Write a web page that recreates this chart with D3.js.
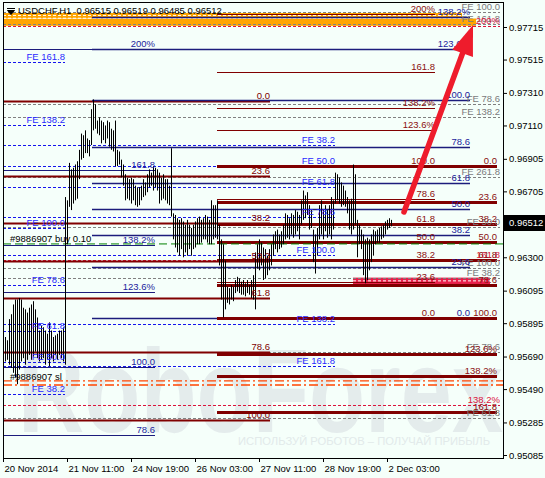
<!DOCTYPE html>
<html>
<head>
<meta charset="utf-8">
<script src="https://cdnjs.cloudflare.com/ajax/libs/d3/7.8.5/d3.min.js"></script>
<style>
  body { margin: 0; background: #f5fffa; }
  svg { display: block; font-family: "Liberation Sans", Arial, sans-serif; }
</style>
</head>
<body>
<div id="chart"></div>
<script>
const width = 545;
const height = 478;

// ------------------
// DATA
// ------------------

const title = "USDCHF,H1  0.96515 0.96519 0.96485 0.96512";
const lastPrice = 0.96512;

const timeTickBars = [0, 32, 64, 96, 128, 160, 192];
const timeLabels = ["20 Nov 2014", "21 Nov 11:00", "24 Nov 19:00", "26 Nov 03:00", "27 Nov 11:00", "28 Nov 19:00", "2 Dec 03:00"];

const priceTicks = [0.97715, 0.97515, 0.97310, 0.97110, 0.96905, 0.96705, 0.96300, 0.96095, 0.95895, 0.95690, 0.95490, 0.95285, 0.95085];

// H1 bars, one per hour from the first bar on 20 Nov: high / low
const barHigh = [
    0.9579, 0.9581, 0.9579, 0.9592, 0.9595, 0.9601, 0.9604, 0.9604, 0.9605, 0.9604,
    0.9599, 0.9598, 0.9596, 0.9599, 0.9601, 0.9603, 0.9598, 0.9593, 0.9585, 0.9588,
    0.9587, 0.9585, 0.9583, 0.9590, 0.9585, 0.9581, 0.9582, 0.9583, 0.9585, 0.9585,
    0.9587, 0.9667, 0.9665, 0.9688, 0.9684, 0.9685, 0.9687, 0.9689, 0.9696, 0.9706,
    0.9705, 0.9708, 0.9703, 0.9702, 0.9721, 0.9727, 0.9724, 0.9714, 0.9716, 0.9714,
    0.9713, 0.9711, 0.9714, 0.9713, 0.9709, 0.9708, 0.9714, 0.9696, 0.9695, 0.9690,
    0.9687, 0.9681, 0.9679, 0.9678, 0.9679, 0.9678, 0.9674, 0.9673, 0.9673, 0.9674,
    0.9678, 0.9676, 0.9681, 0.9684, 0.9682, 0.9686, 0.9685, 0.9684, 0.9682, 0.9679,
    0.9681, 0.9678, 0.9678, 0.9674, 0.9697, 0.9657, 0.9656, 0.9654, 0.9653, 0.9654,
    0.9652, 0.9650, 0.9653, 0.9650, 0.9648, 0.9650, 0.9652, 0.9654, 0.9655, 0.9653,
    0.9654, 0.9656, 0.9655, 0.9653, 0.9665, 0.9662, 0.9662, 0.9665, 0.9650, 0.9641,
    0.9638, 0.9628, 0.9612, 0.9611, 0.9613, 0.9612, 0.9616, 0.9618, 0.9617, 0.9615,
    0.9616, 0.9614, 0.9616, 0.9613, 0.9616, 0.9619, 0.9633, 0.9638, 0.9641, 0.9639,
    0.9636, 0.9635, 0.9631, 0.9635, 0.9638, 0.9644, 0.9646, 0.9647, 0.9644, 0.9646,
    0.9650, 0.9657, 0.9656, 0.9654, 0.9657, 0.9656, 0.9659, 0.9658, 0.9656, 0.9665,
    0.9671, 0.9668, 0.9670, 0.9662, 0.9659, 0.9647, 0.9644, 0.9648, 0.9662, 0.9665,
    0.9659, 0.9662, 0.9659, 0.9662, 0.9667, 0.9665, 0.9682, 0.9681, 0.9679, 0.9676,
    0.9674, 0.9671, 0.9667, 0.9665, 0.9666, 0.9687, 0.9681, 0.9653, 0.9650, 0.9647,
    0.9644, 0.9641, 0.9642, 0.9641, 0.9644, 0.9647, 0.9646, 0.9647, 0.9648, 0.9649,
    0.9650, 0.9652, 0.9653, 0.9654, 0.9653
];
const barLow = [
    0.9568, 0.9566, 0.9567, 0.9564, 0.9562, 0.9559, 0.9556, 0.9552, 0.9561, 0.9566,
    0.9568, 0.9564, 0.9567, 0.9570, 0.9567, 0.9569, 0.9572, 0.9568, 0.9566, 0.9567,
    0.9568, 0.9564, 0.9567, 0.9563, 0.9568, 0.9566, 0.9570, 0.9567, 0.9570, 0.9568,
    0.9566, 0.9564, 0.9638, 0.9661, 0.9659, 0.9663, 0.9665, 0.9666, 0.9678, 0.9690,
    0.9691, 0.9694, 0.9694, 0.9692, 0.9699, 0.9708, 0.9709, 0.9706, 0.9705, 0.9700,
    0.9702, 0.9700, 0.9703, 0.9698, 0.9696, 0.9695, 0.9686, 0.9686, 0.9687, 0.9679,
    0.9674, 0.9665, 0.9666, 0.9665, 0.9663, 0.9665, 0.9662, 0.9661, 0.9662, 0.9665,
    0.9667, 0.9668, 0.9670, 0.9673, 0.9674, 0.9671, 0.9673, 0.9671, 0.9663, 0.9665,
    0.9666, 0.9665, 0.9663, 0.9662, 0.9655, 0.9641, 0.9636, 0.9633, 0.9631, 0.9635,
    0.9630, 0.9633, 0.9631, 0.9635, 0.9631, 0.9635, 0.9636, 0.9638, 0.9638, 0.9639,
    0.9641, 0.9641, 0.9639, 0.9638, 0.9638, 0.9641, 0.9642, 0.9641, 0.9625, 0.9604,
    0.9593, 0.9598, 0.9602, 0.9601, 0.9604, 0.9603, 0.9608, 0.9609, 0.9608, 0.9607,
    0.9607, 0.9606, 0.9608, 0.9607, 0.9605, 0.9604, 0.9598, 0.9623, 0.9622, 0.9625,
    0.9616, 0.9617, 0.9619, 0.9622, 0.9625, 0.9631, 0.9635, 0.9633, 0.9635, 0.9636,
    0.9638, 0.9641, 0.9642, 0.9641, 0.9644, 0.9642, 0.9644, 0.9646, 0.9641, 0.9650,
    0.9653, 0.9654, 0.9656, 0.9647, 0.9648, 0.9627, 0.9620, 0.9631, 0.9641, 0.9644,
    0.9641, 0.9646, 0.9642, 0.9644, 0.9641, 0.9647, 0.9663, 0.9665, 0.9663, 0.9661,
    0.9662, 0.9661, 0.9657, 0.9647, 0.9644, 0.9647, 0.9650, 0.9630, 0.9638, 0.9635,
    0.9619, 0.9614, 0.9616, 0.9622, 0.9627, 0.9631, 0.9638, 0.9639, 0.9639, 0.9641,
    0.9642, 0.9644, 0.9647, 0.9648, 0.9649
];

// Fibonacci objects: price at 0% / 100%, bar span, levels
const fibNames = ["Ga", "Gb", "C", "B1", "B2", "R3", "N2", "N1", "R1", "R2"];
const fibAnchors = {
    R3: [0.97260, 0.95300],
    N2: [0.93672, 0.95626],
    N1: [0.95927, 0.97266],
    R1: [0.95927, 0.96861],
    R2: [0.96861, 0.95927],
    B1: [0.94829, 0.96480],
    B2: [0.97410, 0.96311],
    Ga: [0.93816, 0.96237],
    Gb: [0.95163, 0.97805],
    C:  [0.90183, 0.93952]
};
const fibSpans = {
    R3: [-5, 133.5], N2: [-5, 76], N1: [44.5, 233.5], R1: [107, 216], R2: [107, 247],
    B1: [-5, 31], B2: [-5, 166], Ga: [-5, 248.5], Gb: [-5, 248.5], C: [-5, 248.5]
};
const fibLevels = {
    R3: [[0, "0.0"], [23.6, "23.6"], [38.2, "38.2"], [50, "50.0"], [61.8, "61.8"], [78.6, "78.6"], [100, "100.0"]],
    N2: [[78.6, "78.6"], [100, "100.0"], [123.6, "123.6%"], [138.2, "138.2%"], [161.8, "161.8"], [200, "200%"]],
    N1: [[0, "0.0"], [23.6, "23.6"], [38.2, "38.2"], [50, "50.0"], [61.8, "61.8"], [78.6, "78.6"], [100, "100.0"], [123.6, "123.6%"], [138.2, "138.2%"]],
    R1: [[0, "0.0"], [23.6, "23.6"], [38.2, "38.2"], [50, "50.0"], [61.8, "61.8"], [78.6, "78.6"], [100, "100.0"], [123.6, "123.6%"], [138.2, "138.2%"], [161.8, "161.8"], [200, "200%"]],
    R2: [[0, "0.0"], [23.6, "23.6"], [38.2, "38.2"], [50, "50.0"], [61.8, "61.8"], [78.6, "78.6"], [100, "100.0"], [123.6, "123.6%"], [138.2, "138.2%"], [161.8, "161.8"]],
    B1: [[38.2, "FE 38.2"], [50, "FE 50.0"], [61.8, "FE 61.8"], [78.6, "FE 78.6"], [100, "FE 100.0"], [138.2, "FE 138.2"], [161.8, "FE 161.8"]],
    B2: [[38.2, "FE 38.2"], [50, "FE 50.0"], [61.8, "FE 61.8"], [78.6, "FE 78.6"], [100, "FE 100.0"], [138.2, "FE 138.2"], [161.8, "FE 161.8"]],
    Ga: [[61.8, "FE 61.8"], [78.6, "FE 78.6"], [100, "FE 100.0"], [138.2, "FE 138.2"], [161.8, "FE 161.8"]],
    Gb: [[38.2, "FE 38.2"], [50, "FE 50.0"], [61.8, "FE 261.8"], [78.6, "FE 78.6"], [100, "FE 100.0"]],
    C:  [[138.2, "138.2%"], [161.8, "161.8"], [200, "200%"]]
};

// zones (bar from, bar to, price top, price bottom)
const orangeZones = [[-5, 229.5, 0.97801, 0.97770], [-5, 236.5, 0.97767, 0.97722]];
const orangeZoneDashes = [0.97786, 0.97769];
const pinkZones = [[175, 243.5, 0.96175, 0.96134]];
const pinkZoneDashes = [0.96155];

// order lines
const buyOrder = { price: 0.96382, label: "#9886907 buy 0.10" };
const stopLines = [0.95540, 0.95515];
const stopLabel = "#9886907 sl";

// arrow (bar, price)
const arrowFrom = [200.5, 0.96578];
const arrowTo = [235, 0.97727];

// ------------------
// STYLES
// ------------------

const fibStyle = {
    R3: { stroke: "#800000", w: 2.2, dash: null, text: "#800000" },
    N2: { stroke: "#1c1c7c", w: 1, dash: null, text: "#1c1c9c" },
    N1: { stroke: "#1c1c7c", w: 1.3, dash: null, text: "#1c1c9c" },
    R1: { stroke: "#800000", w: 1, dash: null, text: "#8b1010" },
    R2: { stroke: "#800000", w: 3, dash: null, text: "#8b1010" },
    B1: { stroke: "#1515ee", w: 1, dash: "3,2", text: "#2a2aff" },
    B2: { stroke: "#1515ee", w: 1, dash: "3,2", text: "#2a2aff" },
    Ga: { stroke: "#808080", w: 1, dash: "3,2", text: "#7a7a7a" },
    Gb: { stroke: "#808080", w: 1, dash: "3,2", text: "#7a7a7a" },
    C:  { stroke: "#dc143c", w: 1, dash: "3,2", text: "#dc143c" }
};

// ------------------
// SCALES
// ------------------

const plotL = 3, plotR = 503, plotT = 2, plotB = 458;
const x = d3.scaleLinear().domain([0, 250]).range([plotL, plotR]);
const y = d3.scaleLinear().domain([0.95085, 0.97715]).range([455, 27]);

const svg = d3.select("#chart")
    .append("svg")
    .attr("width", width)
    .attr("height", height);

svg.append("rect").attr("width", width).attr("height", height).attr("fill", "#f5fffa");

svg.append("clipPath").attr("id", "plotclip")
    .append("rect")
    .attr("x", plotL).attr("y", plotT)
    .attr("width", plotR - plotL).attr("height", plotB - plotT);

const plot = svg.append("g").attr("clip-path", "url(#plotclip)");

// watermark
plot.append("text")
    .attr("x", 18).attr("y", 432)
    .attr("font-size", 118).attr("font-weight", "bold")
    .attr("textLength", 485).attr("lengthAdjust", "spacingAndGlyphs")
    .attr("fill", "#e4ecec")
    .text("RoboForex");
plot.append("text")
    .attr("x", 238).attr("y", 445)
    .attr("font-size", 10.5)
    .attr("textLength", 252).attr("lengthAdjust", "spacingAndGlyphs")
    .attr("fill", "#e2eaea")
    .text("ИСПОЛЬЗУЙ РОБОТОВ – ПОЛУЧАЙ ПРИБЫЛЬ");

// zones
function drawZones(zones, dashes, fill) {
    plot.selectAll(null).data(zones).join("rect")
        .attr("x", d => x(d[0])).attr("width", d => x(d[1]) - x(d[0]))
        .attr("y", d => y(d[2])).attr("height", d => y(d[3]) - y(d[2]))
        .attr("fill", fill);
    plot.selectAll(null).data(dashes).join("line")
        .attr("x1", x(zones[0][0])).attr("x2", x(zones[0][1]))
        .attr("y1", d => y(d)).attr("y2", d => y(d))
        .attr("stroke", "#ffffff").attr("stroke-dasharray", "3,2");
}
drawZones(orangeZones, orangeZoneDashes, "#ffa500");
drawZones(pinkZones, pinkZoneDashes, "#e8204a");

// fib level lines
const levelPrice = (name, lv) => {
    const a = fibAnchors[name];
    return a[0] + (a[1] - a[0]) * lv / 100;
};

fibNames.forEach(name => {
    const st = fibStyle[name];
    const span = fibSpans[name];
    plot.append("g").selectAll("line")
        .data(fibLevels[name])
        .join("line")
        .attr("x1", x(span[0]))
        .attr("x2", x(span[1]))
        .attr("y1", d => Math.round(y(levelPrice(name, d[0]))) + 0.5)
        .attr("y2", d => Math.round(y(levelPrice(name, d[0]))) + 0.5)
        .attr("stroke", st.stroke)
        .attr("stroke-width", st.w)
        .attr("stroke-dasharray", st.dash);
});

// order lines
plot.append("line")
    .attr("x1", plotL).attr("x2", plotR)
    .attr("y1", y(buyOrder.price)).attr("y2", y(buyOrder.price))
    .attr("stroke", "#008000").attr("stroke-dasharray", "8,4");
plot.selectAll(null).data(stopLines).join("line")
    .attr("x1", plotL).attr("x2", plotR)
    .attr("y1", d => y(d)).attr("y2", d => y(d))
    .attr("stroke", "#ff4500").attr("stroke-width", 1.3)
    .attr("stroke-dasharray", "9,3,2,3");

// bars
plot.append("g").selectAll("line")
    .data(barHigh)
    .join("line")
    .attr("x1", (d, i) => Math.round(x(i)) + 0.5)
    .attr("x2", (d, i) => Math.round(x(i)) + 0.5)
    .attr("y1", d => y(d))
    .attr("y2", (d, i) => y(barLow[i]))
    .attr("stroke", "#000")
    .attr("stroke-width", 1);

// fib labels
fibNames.forEach(name => {
    const st = fibStyle[name];
    const span = fibSpans[name];
    plot.append("g").selectAll("text")
        .data(fibLevels[name])
        .join("text")
        .attr("x", x(span[1]))
        .attr("y", d => y(levelPrice(name, d[0])) - 2)
        .attr("text-anchor", "end")
        .attr("font-size", 9.5)
        .attr("fill", st.text)
        .text(d => d[1]);
});

// order labels
plot.append("text")
    .attr("x", 10).attr("y", y(buyOrder.price) - 2)
    .attr("font-size", 9.5).attr("fill", "#000")
    .text(buyOrder.label);
plot.append("text")
    .attr("x", 10).attr("y", y(stopLines[0]) - 1)
    .attr("font-size", 9.5).attr("fill", "#000")
    .text(stopLabel);

// arrow
{
    const x0 = x(arrowFrom[0]), y0 = y(arrowFrom[1]);
    const x1 = x(arrowTo[0]), y1 = y(arrowTo[1]);
    const len = Math.hypot(x1 - x0, y1 - y0);
    const ux = (x1 - x0) / len, uy = (y1 - y0) / len;
    const headL = 30, headW = 11;
    const bx = x1 - ux * headL, by = y1 - uy * headL;
    plot.append("line")
        .attr("x1", x0).attr("y1", y0).attr("x2", bx + ux * 2).attr("y2", by + uy * 2)
        .attr("stroke", "#ee1c2c").attr("stroke-width", 5.5).attr("stroke-linecap", "round");
    plot.append("path")
        .attr("d", `M${x1},${y1}L${bx - uy * headW},${by + ux * headW}L${bx + uy * headW},${by - ux * headW}Z`)
        .attr("fill", "#ee1c2c");
}

// title
plot.append("path").attr("d", "M7,8.5h8M7.5,10.5h7l-3.5,4z").attr("stroke", "#000").attr("fill", "#000").attr("stroke-width", 1);
plot.append("text")
    .attr("x", 18).attr("y", 13.5)
    .attr("font-size", 9.5).attr("fill", "#000")
    .attr("xml:space", "preserve")
    .text(title);

// ------------------
// AXES
// ------------------

const yAxis = svg.append("g")
    .attr("transform", `translate(${plotR},0)`)
    .call(d3.axisRight(y).tickValues(priceTicks).tickFormat(d3.format(".5f")).tickSize(4).tickPadding(2));
yAxis.select(".domain").remove();
yAxis.selectAll("text").attr("font-size", 9.5).attr("fill", "#000").attr("font-family", "Liberation Sans, Arial, sans-serif");

const xAxis = svg.append("g")
    .attr("transform", `translate(0,${plotB})`)
    .call(d3.axisBottom(x).tickValues(timeTickBars).tickFormat((d, i) => timeLabels[i]).tickSize(4).tickPadding(3));
xAxis.select(".domain").remove();
xAxis.selectAll("text").attr("text-anchor", "start").attr("dx", 1).attr("font-size", 9.5).attr("fill", "#000").attr("font-family", "Liberation Sans, Arial, sans-serif");

// frame
svg.append("rect")
    .attr("x", plotL + 0.5).attr("y", plotT + 0.5)
    .attr("width", plotR - plotL).attr("height", plotB - plotT)
    .attr("fill", "none").attr("stroke", "#000");

// current price tag
svg.append("rect")
    .attr("x", plotR + 1).attr("y", Math.round(y(lastPrice)) - 8)
    .attr("width", 41).attr("height", 16)
    .attr("fill", "#000");
svg.append("text")
    .attr("x", plotR + 6).attr("y", y(lastPrice) + 3.5)
    .attr("font-size", 9.5).attr("fill", "#fff")
    .text(d3.format(".5f")(lastPrice));
</script>
</body>
</html>
